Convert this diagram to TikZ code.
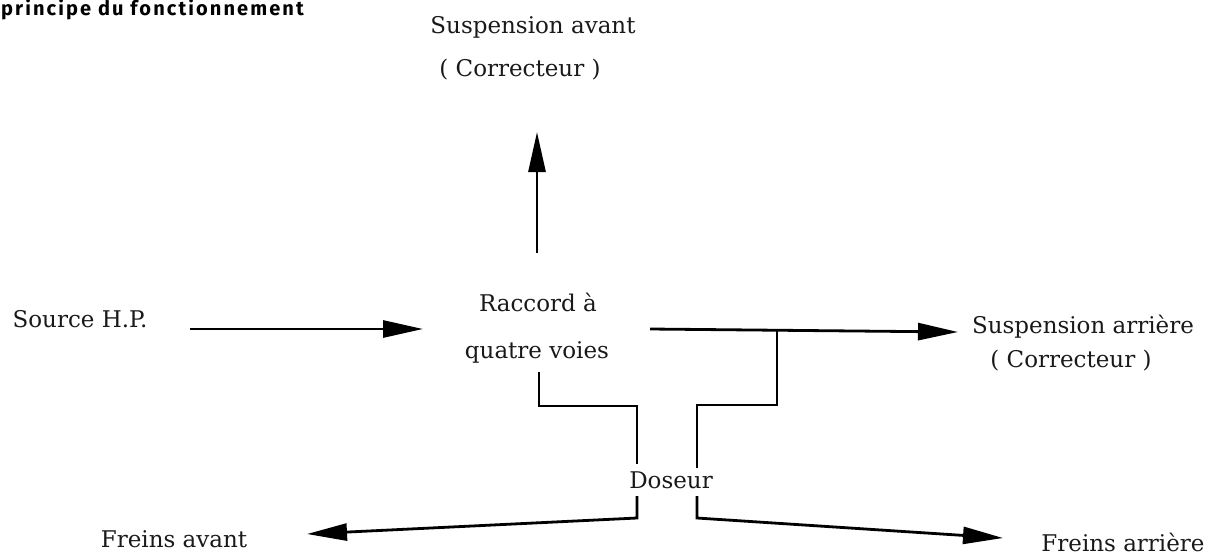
\documentclass[tikz,border=0pt]{standalone}
\usepackage{fontspec}
\setmainfont{DejaVu Serif}
\newfontfamily\titlefont[LetterSpace=10.5]{Fira Sans Bold}
\usetikzlibrary{arrows.meta}
\tikzset{
  lbl/.style={inner sep=0pt,anchor=base,font=\fontsize{23}{27}\selectfont,text=black!90},
  ttl/.style={inner sep=0pt,anchor=base west,font=\titlefont\fontsize{20}{24}\selectfont},
  flow/.style={draw=black,line width=2.8pt},
  flowh/.style={flow,-{Triangle[length=40pt,width=17pt]}}
}
\begin{document}
\begin{tikzpicture}[x=1pt,y=-1pt]
\useasboundingbox (0,0) rectangle (1220,555);
\node[ttl] (title) at (1,15.5) {principe du fonctionnement};
\node[lbl] (sa) at (533,33) {Suspension avant};
\node[lbl] (sac) at (520,76) {( Correcteur )};
\node[lbl] (src) at (80,327) {Source H.P.};
\node[lbl] (r1) at (538,311) {Raccord à};
\node[lbl] (r2) at (537,358) {quatre voies};
\node[lbl] (sr) at (1083,333) {Suspension arrière};
\node[lbl] (src2) at (1071,367) {( Correcteur )};
\node[lbl] (dos) at (671,488) {Doseur};
\node[lbl] (fav) at (174,547) {Freins avant};
\node[lbl] (far) at (1123,551) {Freins arrière};
\coordinate (a1) at (537,253);
\coordinate (a2) at (537,132);
\coordinate (b1) at (190,329);
\coordinate (b2) at (423,329);
\coordinate (c1) at (650,329);
\coordinate (c2) at (958,332);
\coordinate (j) at (777,330);
\coordinate (j1) at (777,405);
\coordinate (j2) at (697,405);
\coordinate (j3) at (697,468);
\coordinate (k0) at (539,372);
\coordinate (k1) at (539,406);
\coordinate (k2) at (637,406);
\coordinate (k3) at (637,464);
\coordinate (m0) at (637,496);
\coordinate (m1) at (637,518);
\coordinate (m2) at (307,534);
\coordinate (n0) at (697,496);
\coordinate (n1) at (697,518);
\coordinate (n2) at (1003,538);
\draw[flowh] (a1) -- (a2);
\draw[flowh] (b1) -- (b2);
\draw[flowh] (c1) -- (c2);
\draw[flow] (j) -- (j1) -- (j2) -- (j3);
\draw[flow] (k0) -- (k1) -- (k2) -- (k3);
\draw[flowh] (m0) -- (m1) -- (m2);
\draw[flowh] (n0) -- (n1) -- (n2);
\end{tikzpicture}
\end{document}
